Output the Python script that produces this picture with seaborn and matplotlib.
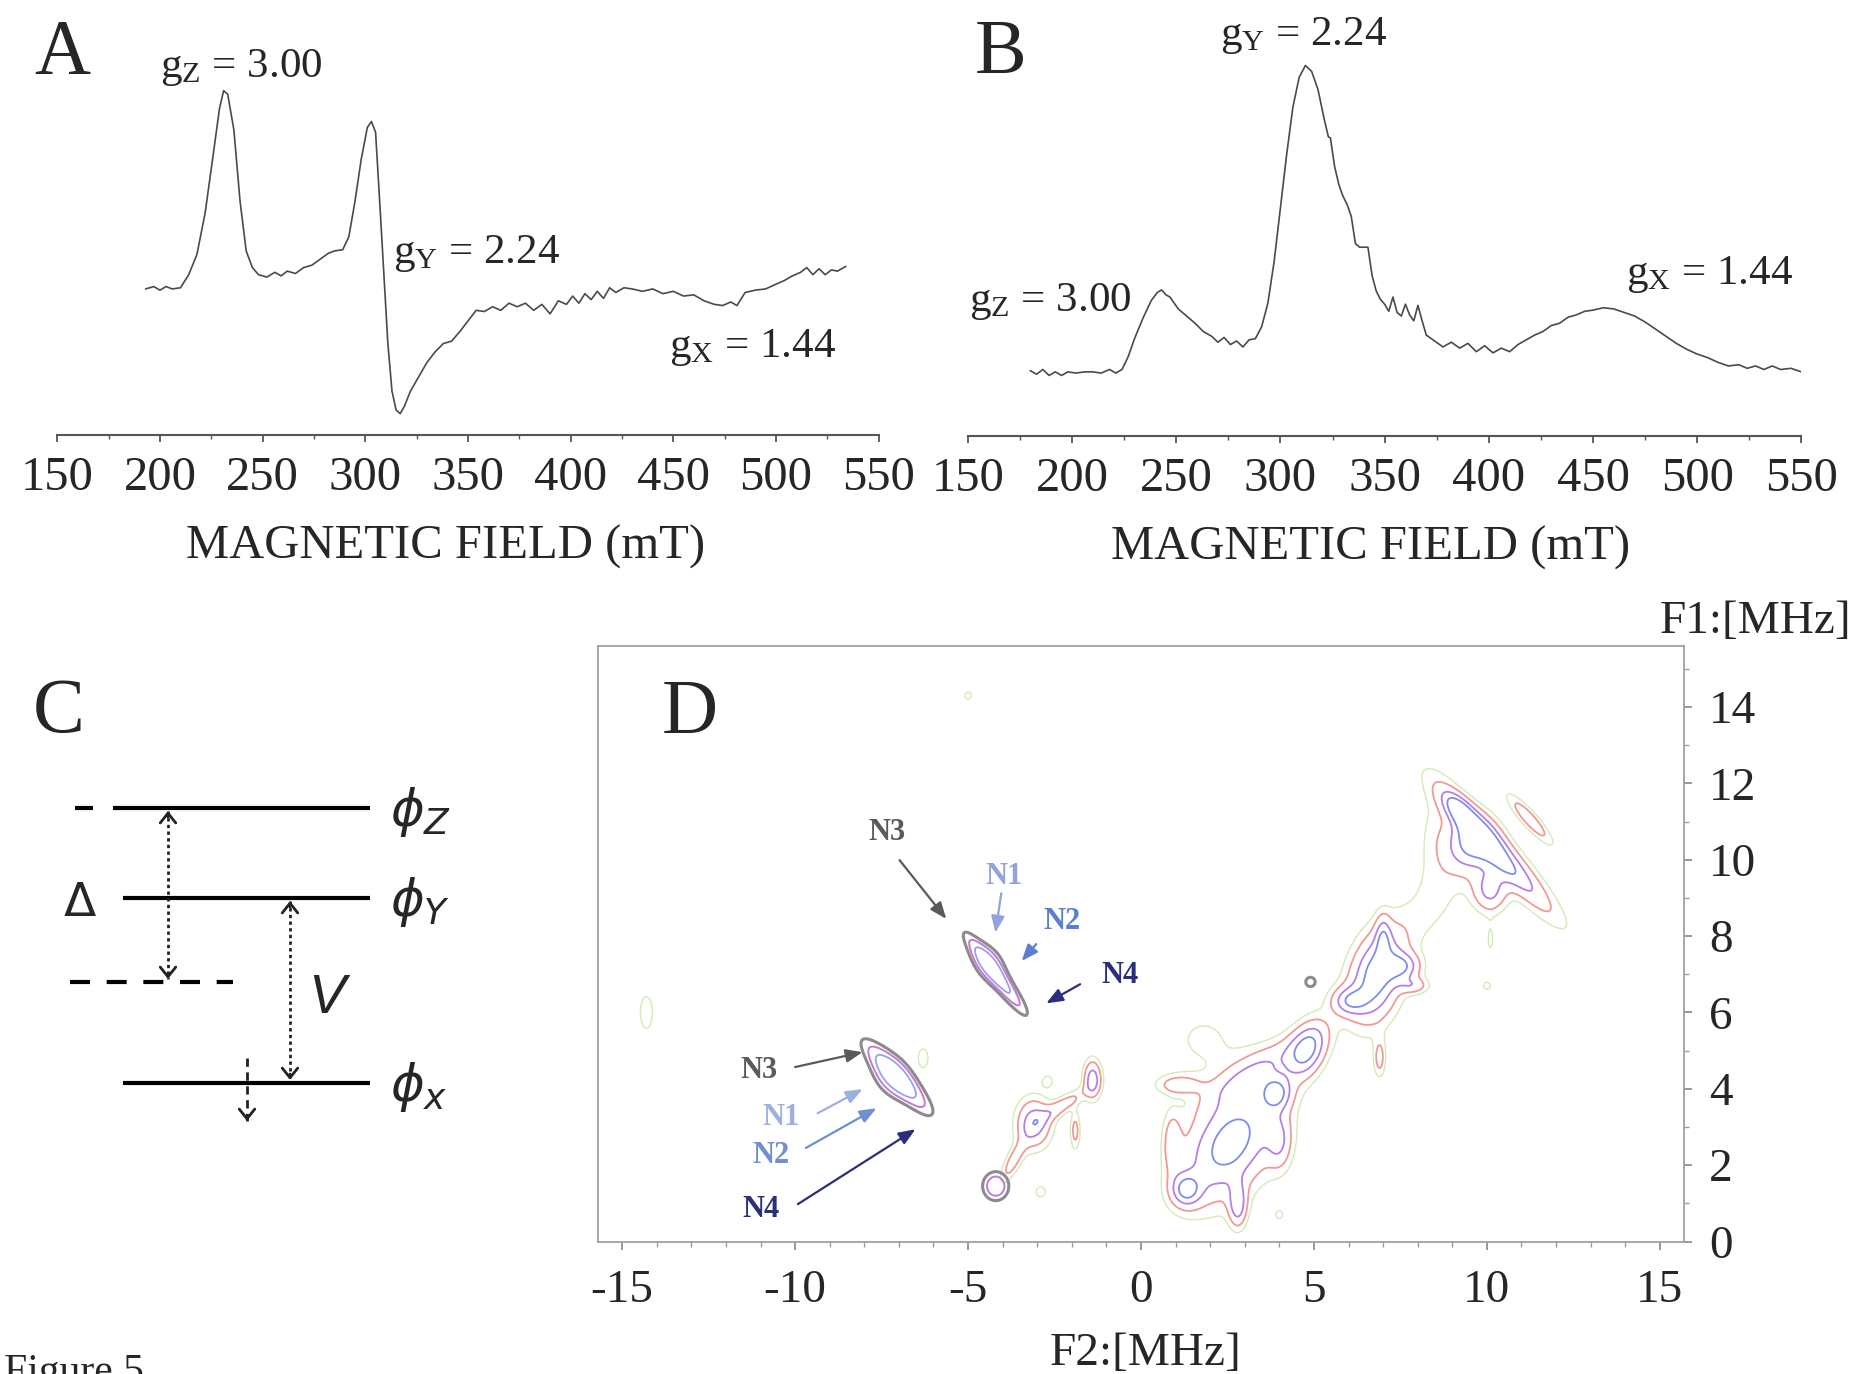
import numpy as np
import matplotlib
matplotlib.use("Agg")
import matplotlib.pyplot as plt
import seaborn as sns

sns.set_style("white")
plt.rcParams["font.family"] = ["Liberation Serif", "DejaVu Serif"]
plt.rcParams["mathtext.fontset"] = "custom"
plt.rcParams["mathtext.rm"] = "Liberation Serif"
plt.rcParams["mathtext.it"] = "Liberation Serif:italic"
plt.rcParams["mathtext.bf"] = "Liberation Serif:bold"
plt.rcParams["axes.unicode_minus"] = False

###################################################################
# data
###################################################################
# panel A: EPR spectrum, field (mT) vs signal (a.u.)
field_a = [193, 197, 200, 203, 206, 210, 214, 218, 222, 226, 229, 231, 233, 236, 239,
           242, 245, 248, 252, 256, 259, 262, 266, 270, 274, 278, 282, 285, 289, 292,
           295, 298, 301, 303, 305, 307, 309, 311, 313, 315, 317, 319, 322, 326, 330,
           334, 338, 342, 346, 350, 354, 358, 362, 366, 370, 374, 378, 382, 386, 390,
           394, 398, 401, 404, 407, 410, 413, 416, 419, 422, 426, 430, 435, 440, 445,
           450, 455, 460, 465, 470, 474, 478, 481, 485, 490, 495, 500, 504, 508, 512,
           515, 518, 521, 524, 527, 530, 534]
signal_a = [123, 125, 122, 125, 123, 124, 135, 152, 187, 237, 275, 290, 287, 257, 197,
            155, 141, 135, 133, 137, 134, 138, 136, 141, 143, 148, 153, 155, 156, 167,
            197, 232, 259, 264, 255, 197, 137, 77, 37, 21, 18, 24, 37, 49, 61,
            70, 77, 79, 87, 96, 105, 104, 108, 105, 111, 108, 111, 105, 110, 102,
            113, 110, 117, 111, 119, 114, 121, 115, 124, 120, 124, 123, 121, 123, 119,
            121, 117, 118, 113, 110, 109, 112, 109, 120, 122, 123, 127, 130, 134, 137,
            141, 135, 140, 135, 139, 138, 142]

# panel B: EPR spectrum, field (mT) vs signal (a.u.)
field_b = [180, 183, 186, 189, 192, 195, 198, 202, 206, 210, 214, 218, 221, 224, 227,
           230, 234, 238, 241, 243, 245, 247, 251, 255, 259, 263, 267, 270, 273, 276,
           279, 282, 285, 288, 291, 294, 297, 300, 303, 306, 309, 312, 315, 318, 321,
           323, 324, 326, 328, 330, 332, 334, 336, 338, 340, 342, 344, 346, 348, 350,
           352, 354, 356, 358, 360, 362, 364, 366, 368, 370, 374, 378, 382, 386, 390,
           394, 398, 402, 406, 410, 414, 418, 422, 426, 430, 434, 438, 442, 446, 450,
           455, 460, 465, 470, 475, 480, 485, 490, 495, 500, 505, 510, 515, 520, 524,
           528, 532, 536, 540, 545, 550]
signal_b = [55, 52, 56, 51, 54, 51, 54, 53, 54, 54, 53, 56, 53, 56, 67,
            82, 99, 114, 121, 123, 119, 117, 107, 101, 95, 88, 84, 79, 83, 77,
            80, 75, 81, 82, 92, 112, 147, 192, 237, 277, 302, 312, 307, 292, 267,
            252, 251, 227, 212, 202, 195, 185, 162, 159, 159, 159, 135, 122, 115, 111,
            105, 117, 104, 101, 111, 102, 97, 110, 97, 85, 80, 75, 79, 74, 78,
            71, 76, 70, 74, 71, 77, 81, 85, 88, 93, 95, 100, 102, 105, 106,
            108, 107, 104, 101, 96, 90, 84, 78, 73, 69, 66, 62, 59, 60, 57,
            59, 56, 59, 56, 57, 54]

# panel D: HYSCORE cross peaks, F2/F1 (MHz), extents, tilt (deg), height
peak_f2 = [-3.1, -1.4, -3.7, -2.3, -1.9, -2.9,
           2.6, 4.8, 3.9, 1.3, 2.8, 1.1, 3.3, 0.9, 4.0,
           6.8, 7.6, 6.0, 7.0, 7.9, 6.9,
           10.3, 9.5, 10.1, 11.25, 9.2,
           7.8, 1.8, -14.3, -5.0, 10.0, 10.1, 4.0, -2.7, 8.5, -6.3]
peak_f1 = [3.1, 4.25, 2.1, 3.55, 2.9, 1.3,
           2.6, 5.0, 3.9, 1.35, 0.95, 4.1, 4.5, 2.6, 2.6,
           6.9, 7.2, 6.3, 8.0, 6.7, 4.8,
           10.2, 10.4, 9.2, 11.05, 11.3,
           8.3, 5.3, 6.0, 14.3, 6.7, 7.9, 0.7, 4.2, 10.5, 4.8]
peak_len = [0.45, 0.35, 0.45, 0.55, 0.35, 0.12,
            1.2, 0.55, 0.3, 0.3, 0.4, 0.45, 1.1, 0.55, 0.5,
            0.85, 0.35, 0.35, 0.4, 0.3, 0.35,
            1.5, 0.5, 0.35, 0.6, 0.4,
            1.8, 1.0, 0.6, 0.12, 0.12, 0.35, 0.12, 0.15, 1.2, 0.35]
peak_wid = [0.35, 0.18, 0.15, 0.15, 0.1, 0.12,
            0.75, 0.35, 0.3, 0.3, 0.18, 0.18, 0.3, 0.18, 0.25,
            0.5, 0.25, 0.25, 0.15, 0.15, 0.12,
            0.28, 0.5, 0.4, 0.14, 0.2,
            0.5, 0.8, 0.25, 0.12, 0.12, 0.1, 0.12, 0.15, 0.4, 0.2]
peak_ang = [90, 90, 60, 30, 90, 0,
            50, 60, 0, 0, 90, 0, 30, 90, 90,
            75, 0, 0, 90, 0, 90,
            -45, 0, 0, -45, -45,
            45, 0, 90, 0, 0, 90, 0, 0, 90, 90]
peak_amp = [0.5, 0.5, 0.3, 0.3, 0.28, 0.2,
            0.68, 0.62, 0.5, 0.5, 0.45, 0.3, 0.3, 0.28, 0.3,
            0.62, 0.4, 0.4, 0.3, 0.28, 0.28,
            0.62, 0.55, 0.45, 0.35, 0.45,
            0.13, 0.12, 0.14, 0.15, 0.15, 0.13, 0.15, 0.15, 0.12, 0.14]

# nitrogen ridges (grey outlined features)
ridge_f2 = [-4.2, -4.4, -7.05, -7.2, -4.2, 4.9]
ridge_f1 = [7.0, 7.3, 4.3, 4.3, 1.45, 6.8]
ridge_len = [0.9, 0.4, 0.9, 0.45, 0.28, 0.2]
ridge_wid = [0.16, 0.3, 0.22, 0.35, 0.28, 0.18]
ridge_ang = [-50, -50, -44, -45, 0, 0]
ridge_amp = [1.0, 0.5, 1.0, 0.5, 0.75, 0.38]

# N labels and arrows (text position, arrow start, arrow tip)
n_labels = ["N3", "N1", "N2", "N4", "N3", "N1", "N2", "N4"]
n_colors = ["#5a5a5a", "#93a2dc", "#5b7fd0", "#2b2d80",
            "#5a5a5a", "#9fb0e0", "#6f8fd0", "#2b2f7a"]
n_text_xy = [(-7.34, 10.72), (-3.97, 9.56), (-2.28, 8.39), (-0.62, 6.98),
             (-11.05, 4.49), (-10.41, 3.25), (-10.7, 2.26), (-10.99, 0.85)]
n_start = [(-6.98, 9.99), (-4.04, 9.12), (-3.03, 7.79), (-1.76, 6.74),
           (-10.0, 4.57), (-9.35, 3.36), (-9.69, 2.45), (-9.92, 0.98)]
n_tip = [(-5.63, 8.45), (-4.21, 8.09), (-3.45, 7.35), (-2.74, 6.24),
         (-8.05, 4.96), (-8.05, 3.99), (-7.65, 3.49), (-6.52, 2.94)]

# panel C: energy levels (drawing units)
level_names = [r"$\phi_Z$", r"$\phi_Y$", r"$\phi_x$"]
level_y = [808, 898, 1083]
level_x0 = [113, 123, 123]

W, H = 1862, 1374


def box(x0, y0, x1, y1):
    # pixel box -> figure fraction
    return [x0 / W, 1 - y1 / H, (x1 - x0) / W, (y1 - y0) / H]


fig = plt.figure(figsize=(W / 100, H / 100), dpi=100)

###################################################################
# A and B: EPR spectra
###################################################################
def epr_axes(rect, x, y, labels):
    ax = fig.add_axes(rect)
    sns.lineplot(x=x, y=y, ax=ax, color="#4a4a4a", lw=1.2, estimator=None)
    ax.set_xlim(150, 550)
    ax.set_ylim(0, 340)
    ax.set_xticks(range(150, 551, 50))
    ax.set_xticks(range(175, 550, 50), minor=True)
    ax.set_yticks([])
    for s in ["left", "right", "top"]:
        ax.spines[s].set_visible(False)
    ax.spines["bottom"].set_color("#555555")
    ax.spines["bottom"].set_linewidth(1.5)
    ax.tick_params(axis="x", which="major", direction="out", length=5, width=1.3,
                   color="#555555", labelsize=35, pad=10, bottom=True)
    ax.tick_params(axis="x", which="minor", direction="out", length=3, width=1.0,
                   color="#555555", bottom=True)
    ax.set_xlabel("")
    ax.set_ylabel("")
    for sub, val, lx, ly in labels:
        ax.text(lx, ly, r"$\mathrm{g}_{\mathrm{" + sub + "}}$ = " + val,
                fontsize=31, va="baseline", ha="left")
    return ax


ax_a = epr_axes(box(57.3, 31.25, 878.6, 435), field_a, signal_a,
                [("Z", "3.00", 199.8, 301.5), ("Y", "2.24", 313.6, 144.5),
                 ("X", "1.44", 447.9, 66)])
ax_a.text(0.4733, -0.307, "MAGNETIC FIELD (mT)", transform=ax_a.transAxes,
          fontsize=35, ha="center", va="baseline")

ax_b = epr_axes(box(967.8, 32.25, 1801.4, 436), field_b, signal_b,
                [("Y", "2.24", 270.9, 329.6), ("Z", "3.00", 150.5, 105.5),
                 ("X", "1.44", 465.8, 128)])
ax_b.text(0.4837, -0.307, "MAGNETIC FIELD (mT)", transform=ax_b.transAxes,
          fontsize=35, ha="center", va="baseline")

###################################################################
# C: level scheme
###################################################################
ax_c = fig.add_axes(box(0, 760, 480, 1140))
ax_c.set_xlim(0, 480)
ax_c.set_ylim(1140, 760)
ax_c.axis("off")
for name, y, x0 in zip(level_names, level_y, level_x0):
    ax_c.plot([x0, 370], [y, y], color="black", lw=3, solid_capstyle="butt")
    ax_c.text(390, y + 4, name, fontsize=37, va="center", ha="left",
              math_fontfamily="dejavusans")
ax_c.plot([75, 93], [808, 808], color="black", lw=3, solid_capstyle="butt")
ax_c.plot([70, 233], [982, 982], color="black", lw=3, dashes=(4.8, 4.0),
          solid_capstyle="butt", dash_capstyle="butt")


def dotted_arrow(x, y0, y1, both=True, style=(0, (1.2, 1.2))):
    ax_c.plot([x, x], [y0, y1], color="#222222", lw=2.0, linestyle=style)
    kw = dict(arrowstyle="->,head_length=0.35,head_width=0.28", color="#222222",
              lw=2.0, shrinkA=0, shrinkB=0, mutation_scale=20)
    ax_c.annotate("", xy=(x, y1), xytext=(x, y1 - 6), arrowprops=kw)
    if both:
        ax_c.annotate("", xy=(x, y0), xytext=(x, y0 + 6), arrowprops=kw)


dotted_arrow(168, 811, 979)
dotted_arrow(290, 901, 1080)
dotted_arrow(247, 1058, 1121, both=False, style=(0, (3, 2)))
ax_c.text(80, 903, "Δ", family="DejaVu Sans", fontsize=34, ha="center", va="center")
ax_c.text(327, 999, "V", family="Liberation Sans", style="italic", fontsize=40,
          ha="center", va="center")

###################################################################
# D: HYSCORE contour map
###################################################################
ax_d = fig.add_axes(box(598, 646, 1684, 1241.5))
f2 = np.linspace(-15.7, 15.7, 630)
f1 = np.linspace(0, 15.6, 320)
X, Y = np.meshgrid(f2, f1)


def field(cx, cy, sl, sw, ang, amp):
    Z = np.zeros_like(X)
    for a, b, c, d, e, h in zip(cx, cy, sl, sw, ang, amp):
        t = np.deg2rad(e)
        u = (X - a) * np.cos(t) + (Y - b) * np.sin(t)
        v = -(X - a) * np.sin(t) + (Y - b) * np.cos(t)
        Z += h * np.exp(-0.5 * ((u / c) ** 2 + (v / d) ** 2))
    return Z


Z_main = field(peak_f2, peak_f1, peak_len, peak_wid, peak_ang, peak_amp)
ax_d.contour(X, Y, Z_main, levels=[0.11, 0.22, 0.4, 0.58],
             colors=["#d3ebb6", "#f09a96", "#b47fe6", "#7f8cec"],
             linewidths=[1.0, 1.3, 1.3, 1.3])
Z_ridge = field(ridge_f2, ridge_f1, ridge_len, ridge_wid, ridge_ang, ridge_amp)
ax_d.contour(X, Y, Z_ridge, levels=[0.3, 0.5, 0.8],
             colors=["#8c8c8c", "#c27ad6", "#9aa0ea"], linewidths=[2.2, 1.4, 1.3])

for lab, col, txy, st, tp in zip(n_labels, n_colors, n_text_xy, n_start, n_tip):
    ax_d.text(txy[0], txy[1], lab, color=col, fontsize=22, fontweight="bold",
              ha="center", va="center")
    ax_d.annotate("", xy=tp, xytext=st,
                  arrowprops=dict(arrowstyle="-|>,head_length=0.5,head_width=0.2",
                                  color=col, lw=1.6, shrinkA=0, shrinkB=0,
                                  mutation_scale=20))

ax_d.set_xlim(-15.7, 15.7)
ax_d.set_ylim(0, 15.6)
ax_d.set_xticks(range(-15, 16, 5))
ax_d.set_xticks(range(-15, 16, 1), minor=True)
ax_d.set_yticks(range(0, 15, 2))
ax_d.set_yticks(range(1, 16, 2), minor=True)
ax_d.yaxis.tick_right()
for s in ax_d.spines.values():
    s.set_color("#a0a0a0")
    s.set_linewidth(1.3)
ax_d.tick_params(axis="both", which="major", direction="out", length=6, width=1.2,
                 color="#888888", labelsize=34)
ax_d.tick_params(axis="both", which="minor", direction="out", length=3.5, width=1.0,
                 color="#999999")
ax_d.tick_params(axis="x", which="both", bottom=True, top=False, pad=14)
ax_d.tick_params(axis="y", which="both", right=True, left=False, pad=12)
ax_d.grid(False)

fig.text(1660 / W, 1 - 633 / H, "F1:[MHz]", fontsize=34, ha="left", va="baseline")
fig.text(1146 / W, 1 - 1365 / H, "F2:[MHz]", fontsize=34, ha="center", va="baseline")

# panel letters
for letter, px, py in [("A", 34, 73.5), ("B", 975, 73), ("C", 33, 732), ("D", 662, 733)]:
    fig.text(px / W, 1 - py / H, letter, fontsize=56, ha="left", va="baseline")

# caption, cut by the lower edge as in the source
fig.text(0.002, 1 - 1353 / H, "Figure 5", fontsize=30, ha="left", va="top")

fig.savefig("out.png", dpi=100)
